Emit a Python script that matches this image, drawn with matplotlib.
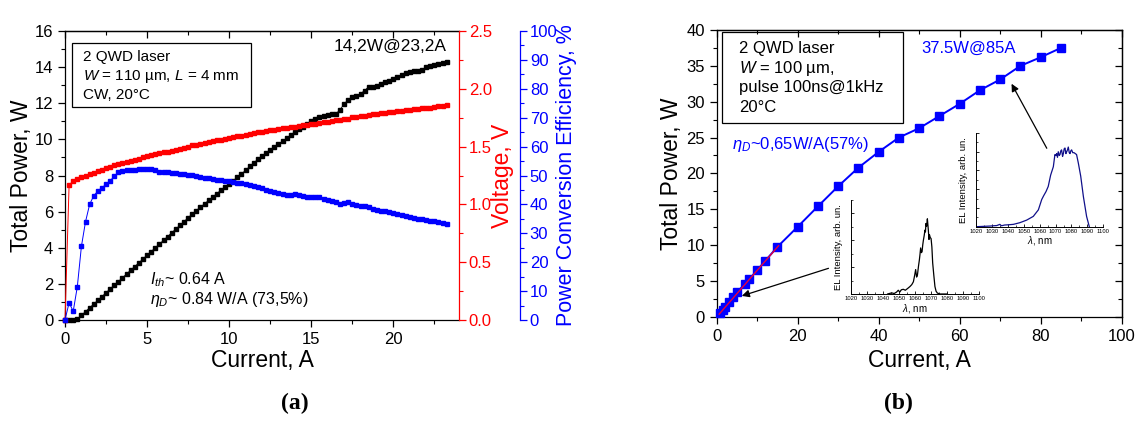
import numpy as np
import matplotlib
matplotlib.use('Agg')
import matplotlib.pyplot as plt
from matplotlib.patches import Rectangle
from matplotlib.ticker import MultipleLocator, NullFormatter

plt.rcParams['font.family'] = ['Liberation Sans', 'DejaVu Sans']
plt.rcParams['mathtext.fontset'] = 'custom'
plt.rcParams['mathtext.rm'] = 'Liberation Sans'
plt.rcParams['mathtext.it'] = 'Liberation Sans:italic'
plt.rcParams['mathtext.bf'] = 'Liberation Sans:bold'
plt.rcParams['axes.linewidth'] = 0.9

# (a) CW measurement, 0.25 A steps
power_cw = [
    0, 0, 0, 0.05, 0.26, 0.47, 0.68, 0.88, 1.09, 1.30,
    1.51, 1.72, 1.93, 2.13, 2.34, 2.55, 2.76, 2.96, 3.17, 3.38,
    3.59, 3.79, 4.00, 4.21, 4.41, 4.62, 4.83, 5.04, 5.24, 5.45,
    5.66, 5.87, 6.06, 6.25, 6.44, 6.62, 6.81, 7.00, 7.19, 7.37,
    7.55, 7.72, 7.90, 8.09, 8.29, 8.50, 8.70, 8.90, 9.08, 9.26,
    9.43, 9.59, 9.75, 9.90, 10.06, 10.24, 10.42, 10.56, 10.70, 10.84,
    11.00, 11.12, 11.24, 11.30, 11.36, 11.38, 11.40, 11.65, 11.95, 12.20,
    12.32, 12.42, 12.53, 12.70, 12.92, 12.88, 12.95, 13.07, 13.15, 13.24,
    13.33, 13.45, 13.57, 13.66, 13.74, 13.76, 13.76, 13.82, 14.00, 14.06,
    14.11, 14.16, 14.21, 14.26]
voltage_cw = [
    0.00, 1.17, 1.20, 1.22, 1.235, 1.245, 1.26, 1.275, 1.29, 1.30,
    1.315, 1.326, 1.337, 1.348, 1.358, 1.368, 1.378, 1.387, 1.397, 1.406,
    1.415, 1.424, 1.433, 1.441, 1.449, 1.457, 1.465, 1.472, 1.48, 1.49,
    1.50, 1.51, 1.518, 1.525, 1.532, 1.539, 1.546, 1.553, 1.560, 1.567,
    1.574, 1.581, 1.588, 1.595, 1.602, 1.609, 1.616, 1.623, 1.630, 1.636,
    1.641, 1.646, 1.652, 1.657, 1.662, 1.667, 1.672, 1.678, 1.683, 1.688,
    1.694, 1.699, 1.704, 1.709, 1.715, 1.720, 1.726, 1.731, 1.737, 1.742,
    1.752, 1.757, 1.762, 1.768, 1.774, 1.779, 1.784, 1.789, 1.794, 1.798,
    1.802, 1.806, 1.810, 1.814, 1.818, 1.822, 1.826, 1.830, 1.834, 1.838,
    1.842, 1.847, 1.852, 1.858]
pce_cw = [
    0, 6, 3, 11.5, 25.5, 34, 40, 43, 44.6, 45.8,
    46.9, 48.2, 49.7, 51.1, 51.6, 51.8, 51.9, 52.0, 52.1, 52.1,
    52.2, 52.1, 51.8, 51.2, 51.1, 51.1, 50.9, 50.7, 50.6, 50.5,
    50.3, 50.2, 49.9, 49.6, 49.3, 49.1, 48.9, 48.6, 48.4, 48.2,
    48.0, 47.8, 47.5, 47.3, 47.0, 46.7, 46.4, 46.0, 45.6, 45.1,
    44.7, 44.3, 44.0, 43.7, 43.3, 43.4, 43.6, 43.2, 42.8, 42.5,
    42.6, 42.7, 42.6, 42.0, 41.5, 41.2, 40.7, 40.2, 40.5, 40.8,
    40.3, 39.8, 39.6, 39.5, 39.1, 38.4, 38.1, 37.8, 37.6, 37.3,
    37.0, 36.7, 36.5, 36.1, 35.7, 35.4, 35.1, 34.8, 34.6, 34.4,
    34.2, 33.8, 33.5, 33.2]
step_cw = 0.25

# (b) pulsed measurement
current_p = [0.8, 1.5, 2, 3, 4, 5, 7, 8, 10, 12, 15, 20, 25, 30, 35, 40,
             45, 50, 55, 60, 65, 70, 75, 80, 85]
power_p = [0.45, 0.95, 1.4, 2.1, 2.8, 3.5, 4.5, 5.2, 6.5, 7.8, 9.75, 12.55,
           15.4, 18.2, 20.8, 23.0, 25.0, 26.3, 28.0, 29.7, 31.6, 33.1,
           35.0, 36.2, 37.5]
eta_fit = 0.65
fit_current = np.array([0.6, 15.3])
fit_i0 = 0.05

# EL spectra
wl_low = [1043, 1044, 1045.5, 1047, 1048.5, 1049.6, 1050.5, 1051.5, 1052.7,
          1054, 1055.5, 1056.9, 1058, 1059, 1059.8, 1060.4, 1061, 1061.5,
          1062.2, 1062.7, 1063.1, 1063.5, 1064, 1064.4, 1064.8, 1065.2,
          1065.7, 1066.2, 1066.5, 1066.8, 1067.2, 1067.7, 1068, 1068.3,
          1068.7, 1069, 1069.5, 1070, 1070.5, 1071, 1071.7, 1072.4, 1073.1,
          1073.9, 1075.5, 1080]
el_low = [0, 0.005, 0.012, 0.005, 0.02, 0.04, 0.02, 0.045, 0.05, 0.04, 0.06,
          0.08, 0.1, 0.13, 0.2, 0.26, 0.18, 0.2, 0.3, 0.36, 0.42, 0.49, 0.44,
          0.45, 0.52, 0.57, 0.62, 0.68, 0.66, 0.75, 0.72, 0.80, 0.74, 0.68,
          0.58, 0.63, 0.60, 0.59, 0.5, 0.33, 0.2, 0.08, 0.03, 0.01, 0, 0]
wl_high = [1020, 1024, 1028.8, 1031, 1033, 1035, 1036, 1038, 1040, 1043.5,
           1047.6, 1051.8, 1056, 1059.2, 1061.3, 1062.5, 1064, 1065.4,
           1066.9, 1068.6, 1069.6, 1070.2, 1070.7, 1071.2, 1071.7, 1072.3,
           1072.8, 1073.3, 1073.8, 1074.4, 1074.9, 1075.4, 1075.9, 1076.5,
           1077, 1077.5, 1078, 1078.6, 1079.1, 1079.6, 1080.1, 1080.8,
           1081.6, 1082.4, 1083.2, 1084.3, 1085.8, 1087.5, 1089.5, 1091.2]
el_high = [0, 0.003, 0.007, 0.01, 0.012, 0.025, 0.01, 0.018, 0.02, 0.025,
           0.043, 0.07, 0.11, 0.18, 0.29, 0.33, 0.375, 0.43, 0.55, 0.64,
           0.77, 0.76, 0.78, 0.74, 0.80, 0.76, 0.77, 0.81, 0.82, 0.75, 0.78,
           0.83, 0.84, 0.78, 0.80, 0.82, 0.85, 0.79, 0.78, 0.81, 0.82, 0.79,
           0.79, 0.78, 0.77, 0.68, 0.54, 0.32, 0.11, 0]

W, H = 1140, 423
fig = plt.figure(figsize=(W / 100, H / 100), dpi=100)


def fax(x0, y_top, x1, y_bot):
    return [x0 / W, 1 - y_bot / H, (x1 - x0) / W, (y_bot - y_top) / H]


tick_kw = dict(length=5, width=0.9, labelsize=12)
mtick_kw = dict(length=3, width=0.8)

# ---------------- panel (a) ----------------
ax1 = fig.add_axes(fax(65, 31, 459, 320))
ax1.plot(np.arange(len(power_cw)) * step_cw, power_cw, color='k', marker='s',
         ms=3, lw=0.6, clip_on=False, zorder=3)
ax1.set_xlim(0, 24)
ax1.set_ylim(0, 16)
ax1.xaxis.set_major_locator(MultipleLocator(5))
ax1.xaxis.set_minor_locator(MultipleLocator(2.5))
ax1.yaxis.set_major_locator(MultipleLocator(2))
ax1.yaxis.set_minor_locator(MultipleLocator(1))
ax1.tick_params(which='major', direction='out', top=False, right=False, **tick_kw)
ax1.tick_params(which='minor', direction='out', top=False, right=False, **mtick_kw)
ax1.spines['right'].set_visible(False)
top1 = ax1.secondary_xaxis('top')
top1.xaxis.set_major_locator(MultipleLocator(5))
top1.xaxis.set_minor_locator(MultipleLocator(2.5))
top1.xaxis.set_major_formatter(NullFormatter())
top1.tick_params(which='major', direction='in', length=5, width=0.9)
top1.tick_params(which='minor', direction='in', **mtick_kw)
ax1.set_xlabel('Current, A', fontsize=16.5)
ax1.xaxis.set_label_coords(0.5, -0.102)
ax1.set_ylabel('Total Power, W', fontsize=16.5)
ax1.yaxis.set_label_coords(-0.082, 0.5)

axv = ax1.twinx()
axv.plot(np.arange(len(voltage_cw)) * step_cw, voltage_cw, color='red',
         marker='s', ms=3, lw=0.7, clip_on=False)
axv.set_ylim(0, 2.5)
axv.yaxis.set_major_locator(MultipleLocator(0.5))
axv.yaxis.set_minor_locator(MultipleLocator(0.25))
axv.yaxis.set_major_formatter(plt.FormatStrFormatter('%.1f'))
axv.tick_params(axis='y', which='major', direction='out', colors='red',
                pad=2, **tick_kw)
axv.tick_params(axis='y', which='minor', direction='out', colors='red', **mtick_kw)
axv.spines['right'].set_color('red')
for s in ('left', 'top', 'bottom'):
    axv.spines[s].set_visible(False)
axv.set_ylabel('Voltage, V', fontsize=16.5, color='red')
axv.yaxis.set_label_coords(1.082, 0.5)

axe = ax1.twinx()
axe.spines['right'].set_position(('axes', 1.155))
axe.plot(np.arange(len(pce_cw)) * step_cw, pce_cw, color='blue', marker='s',
         ms=3, lw=0.7, clip_on=False)
axe.set_ylim(0, 100)
axe.yaxis.set_major_locator(MultipleLocator(10))
axe.yaxis.set_minor_locator(MultipleLocator(5))
axe.tick_params(axis='y', which='major', direction='out', colors='blue',
                pad=2, **tick_kw)
axe.tick_params(axis='y', which='minor', direction='out', colors='blue', **mtick_kw)
axe.spines['right'].set_color('blue')
for s in ('left', 'top', 'bottom'):
    axe.spines[s].set_visible(False)
axe.set_ylabel('Power Conversion Efficiency, %', fontsize=15.5, color='blue')
axe.yaxis.set_label_coords(1.247, 0.5)

ax1.add_patch(Rectangle((0.017, 0.736), 0.454, 0.221, transform=ax1.transAxes,
                        fill=False, lw=0.9, ec='k', zorder=5))
for yy, txt in zip((0.911, 0.844, 0.779),
                   ('2 QWD laser', r'$W$ = 110 µm, $L$ = 4 mm', 'CW, 20°C')):
    ax1.text(0.045, yy, txt, transform=ax1.transAxes, fontsize=11,
             va='center', ha='left', zorder=6)
ax1.text(0.969, 0.946, '14,2W@23,2A', transform=ax1.transAxes, fontsize=12.5,
         ha='right', va='center')
ax1.text(0.216, 0.14, r'$I_{th}$~ 0.64 A', transform=ax1.transAxes,
         fontsize=11.5, ha='left', va='center')
ax1.text(0.216, 0.07, r'$\eta_D$~ 0.84 W/A (73,5%)', transform=ax1.transAxes,
         fontsize=11.5, ha='left', va='center')

# ---------------- panel (b) ----------------
ax2 = fig.add_axes(fax(716.7, 30, 1121.7, 316.7))
ax2.plot(current_p, power_p, color='blue', marker='s', ms=5.2, lw=1.4,
         clip_on=False, zorder=3)
ax2.plot(fit_current, eta_fit * (fit_current - fit_i0), color='#e8003a',
         lw=1.0, zorder=4)
ax2.set_xlim(0, 100)
ax2.set_ylim(0, 40)
ax2.xaxis.set_major_locator(MultipleLocator(20))
ax2.xaxis.set_minor_locator(MultipleLocator(10))
ax2.yaxis.set_major_locator(MultipleLocator(5))
ax2.yaxis.set_minor_locator(MultipleLocator(2.5))
ax2.tick_params(which='major', direction='out', top=False, right=False, **tick_kw)
ax2.tick_params(which='minor', direction='out', top=False, right=False, **mtick_kw)
top2 = ax2.secondary_xaxis('top')
top2.xaxis.set_major_locator(MultipleLocator(20))
top2.xaxis.set_minor_locator(MultipleLocator(10))
top2.xaxis.set_major_formatter(NullFormatter())
top2.tick_params(which='major', direction='in', length=5, width=0.9)
top2.tick_params(which='minor', direction='in', **mtick_kw)
right2 = ax2.secondary_yaxis('right')
right2.yaxis.set_major_locator(MultipleLocator(5))
right2.yaxis.set_minor_locator(MultipleLocator(2.5))
right2.yaxis.set_major_formatter(NullFormatter())
right2.tick_params(which='major', direction='in', length=5, width=0.9)
right2.tick_params(which='minor', direction='in', **mtick_kw)
ax2.set_xlabel('Current, A', fontsize=16.5)
ax2.xaxis.set_label_coords(0.5, -0.114)
ax2.set_ylabel('Total Power, W', fontsize=16.5)
ax2.yaxis.set_label_coords(-0.084, 0.5)

ax2.add_patch(Rectangle((0.012, 0.677), 0.447, 0.316, transform=ax2.transAxes,
                        fill=False, lw=0.9, ec='k', zorder=5))
for yy, txt in zip((0.937, 0.867, 0.798, 0.728),
                   ('2 QWD laser', r'$W$ = 100 µm,', 'pulse 100ns@1kHz', '20°C')):
    ax2.text(0.056, yy, txt, transform=ax2.transAxes, fontsize=12,
             va='center', ha='left', zorder=6)
ax2.text(0.504, 0.937, '37.5W@85A', transform=ax2.transAxes, fontsize=12,
         color='blue', ha='left', va='center')
ax2.text(0.037, 0.599, r'$\eta_D$~0,65W/A(57%)', transform=ax2.transAxes,
         fontsize=12, color='blue', ha='left', va='center')

arrow_kw = dict(arrowstyle='-|>', color='k', lw=0.9, mutation_scale=11,
                shrinkA=0, shrinkB=0)
ax2.annotate('', xy=(72.8, 32.5), xytext=(81.5, 23.5), arrowprops=arrow_kw,
             zorder=6)
ax2.annotate('', xy=(6.2, 2.9), xytext=(27.6, 6.75), arrowprops=arrow_kw,
             zorder=6)


def spectrum_inset(rect, wl, el, color, yminor):
    ins = fig.add_axes(rect)
    ins.patch.set_alpha(0)
    ins.plot(wl, el, color=color, lw=0.9)
    ins.set_xlim(1020, 1100)
    ins.set_ylim(0, 1)
    for s in ('top', 'right'):
        ins.spines[s].set_visible(False)
    for s in ('left', 'bottom'):
        ins.spines[s].set_linewidth(0.7)
    ins.xaxis.set_major_locator(MultipleLocator(10))
    ins.xaxis.set_minor_locator(MultipleLocator(5))
    ins.yaxis.set_major_locator(MultipleLocator(2 * yminor))
    ins.yaxis.set_minor_locator(MultipleLocator(yminor))
    ins.yaxis.set_major_formatter(NullFormatter())
    ins.tick_params(which='major', direction='in', length=2.5, width=0.6,
                    labelsize=4.2, pad=1.5)
    ins.tick_params(which='minor', direction='in', length=1.5, width=0.5)
    ins.set_xlabel(r'$\lambda$, nm', fontsize=7, labelpad=0.5)
    ins.set_ylabel('EL Intensity, arb. un.', fontsize=6.8, labelpad=2)
    return ins


spectrum_inset(fax(850.7, 200, 979.3, 294), wl_low, el_low, 'k', 1 / 7)
spectrum_inset(fax(976, 133, 1103.3, 226.7), wl_high, el_high, '#10108a', 0.1)

fig.text(295 / W, 1 - 403 / H, '(a)', ha='center', va='center', fontsize=17,
         fontweight='bold', family='Liberation Serif')
fig.text(898 / W, 1 - 403 / H, '(b)', ha='center', va='center', fontsize=17,
         fontweight='bold', family='Liberation Serif')

fig.savefig('out.png', dpi=100)
